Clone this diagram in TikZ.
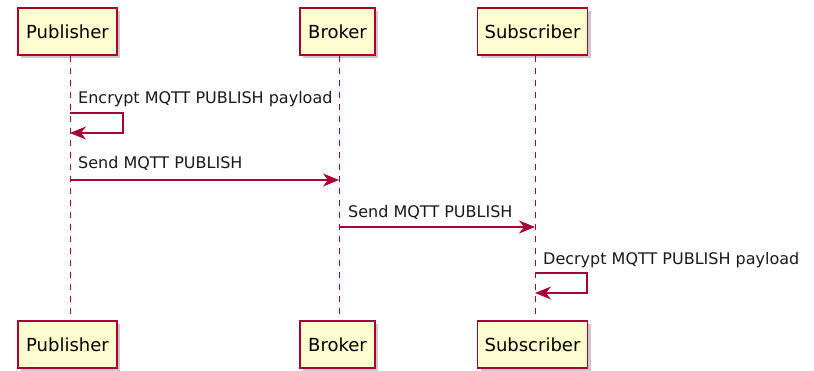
\documentclass[tikz,border=0pt]{standalone}
\usepackage{fontspec}
\setmainfont{DejaVu Sans}
\usetikzlibrary{arrows.meta,shadows}
\definecolor{umlred}{HTML}{A80036}
\definecolor{umlfill}{HTML}{FEFECE}
\tikzset{
    actor/.style={shape=rectangle,draw=umlred,fill=umlfill,line width=1.4pt,
        minimum width=#1,minimum height=47pt,inner sep=0pt,font=\fontsize{18}{20}\selectfont,
        drop shadow={shadow xshift=3pt,shadow yshift=-3pt,fill=black!35,opacity=0.6}},
    actor/.default=98pt,
    lifeline/.style={draw=umlred,dash pattern=on 6pt off 6pt,line width=0.8pt},
    msg/.style={draw=umlred,line width=1.4pt,-{Stealth[length=16pt,width=13pt,inset=5pt]}},
    msgtext/.style={font=\fontsize{16}{18}\selectfont,text=black!90,inner sep=0pt}
}

\begin{document}
\begin{tikzpicture}[x=1pt,y=-1pt]
    \useasboundingbox (0,0) rectangle (814,371);
    \node[actor=99pt] (pubtop) at (67.5,31.5) {Publisher};
    \node[actor=75pt] (brotop) at (337.5,31.5) {Broker};
    \node[actor=110pt] (subtop) at (532.5,31.5) {Subscriber};
    \node[actor=99pt] (pubbot) at (67.5,344.5) {Publisher};
    \node[actor=75pt] (brobot) at (337.5,344.5) {Broker};
    \node[actor=110pt] (subbot) at (532.5,344.5) {Subscriber};

    % lifelines
    \draw[lifeline] (pubtop.south -| 70,0) -- (pubbot.north -| 70,0);
    \draw[lifeline] (brotop.south -| 339,0) -- (brobot.north -| 339,0);
    \draw[lifeline] (subtop.south -| 535,0) -- (subbot.north -| 535,0);

    % messages
    \coordinate (enc1) at (70,113);
    \coordinate (enc2) at (70,133);
    \coordinate (pub1) at (70,180);
    \coordinate (bro1) at (339,180);
    \coordinate (bro2) at (339,227);
    \coordinate (sub1) at (535,227);
    \coordinate (dec1) at (535,273);
    \coordinate (dec2) at (535,293);

    \draw[msg] (enc1) -- ++(53,0) |- (enc2);
    \node[msgtext,anchor=base west] (enctext) at (78,104) {Encrypt MQTT PUBLISH payload};
    \draw[msg] (pub1) -- (bro1);
    \node[msgtext,anchor=base west] (pubtext) at (78,169) {Send MQTT PUBLISH};
    \draw[msg] (bro2) -- (sub1);
    \node[msgtext,anchor=base west] (brotext) at (348,218) {Send MQTT PUBLISH};
    \draw[msg] (dec1) -- ++(52,0) |- (dec2);
    \node[msgtext,anchor=base west] (dectext) at (543,265) {Decrypt MQTT PUBLISH payload};
\end{tikzpicture}
\end{document}
